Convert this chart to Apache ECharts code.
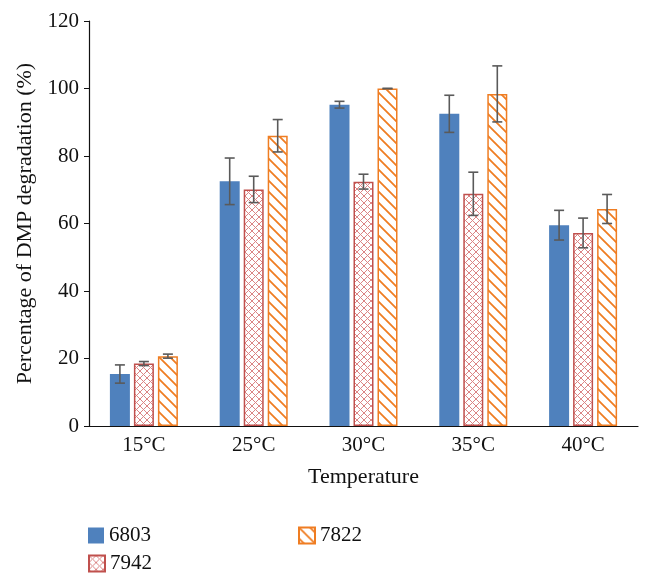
<!DOCTYPE html>
<html>
<head>
<meta charset="utf-8">
<script src="https://cdn.jsdelivr.net/npm/echarts@6/dist/echarts.min.js"></script>
<style>html,body{margin:0;padding:0;background:#fff;}#c{width:653px;height:584px;}</style>
</head>
<body>
<div id="c"></div>
<script>
var categories = ['15°C', '25°C', '30°C', '35°C', '40°C'];
var yTicks = [0, 20, 40, 60, 80, 100, 120];
var seriesNames = ['6803', '7942', '7822'];
var values6803 = [15.4, 72.5, 95.2, 92.5, 59.5];
var values7942 = [18.5, 70.1, 72.4, 68.8, 57.2];
var values7822 = [20.7, 86.0, 100.0, 98.4, 64.3];
var err6803 = [2.7, 6.9, 1.0, 5.5, 4.4];
var err7942 = [0.6, 3.9, 2.2, 6.4, 4.4];
var err7822 = [0.6, 4.8, 0.0, 8.3, 4.3];

function makePattern(kind) {
  var c = document.createElement('canvas');
  var s = kind === 'cross' ? 7 : 11;
  c.width = s; c.height = s;
  var g = c.getContext('2d');
  g.fillStyle = '#ffffff';
  g.fillRect(0, 0, s, s);
  if (kind === 'cross') {
    g.strokeStyle = '#db8585';
    g.lineWidth = 1;
    g.beginPath();
    g.moveTo(0, 0); g.lineTo(s, s);
    g.moveTo(s, 0); g.lineTo(0, s);
    g.stroke();
  } else {
    g.strokeStyle = '#ef7d22';
    g.lineWidth = 1.8;
    g.beginPath();
    g.moveTo(-1, -1); g.lineTo(s + 1, s + 1);
    g.moveTo(-1, s - 1); g.lineTo(1, s + 1);
    g.moveTo(s - 1, -1); g.lineTo(s + 1, 1);
    g.stroke();
  }
  return c;
}

var chart = echarts.init(document.getElementById('c'), null, {renderer: 'canvas'});
var font = 'Liberation Serif';
var fs = 21;
var barW = 20, gap = 4;

function errSeries(idx, vals, errs) {
  var data = vals.map(function (v, i) { return [i, v, errs[i]]; });
  return {
    type: 'custom',
    z: 10,
    silent: true,
    data: data,
    renderItem: function (params, api) {
      var i = api.value(0), v = api.value(1), e = api.value(2);
      var top = api.coord([i, v + e]);
      var bot = api.coord([i, v - e]);
      var x = top[0] + (idx - 1) * (barW + gap);
      var cap = 5;
      var st = {stroke: '#5a5a5a', lineWidth: 1.6};
      return {
        type: 'group',
        children: [
          {type: 'line', shape: {x1: x, y1: top[1], x2: x, y2: bot[1]}, style: st},
          {type: 'line', shape: {x1: x - cap, y1: top[1], x2: x + cap, y2: top[1]}, style: st},
          {type: 'line', shape: {x1: x - cap, y1: bot[1], x2: x + cap, y2: bot[1]}, style: st}
        ]
      };
    }
  };
}

var legendText = {fontFamily: font, fontSize: fs, color: '#111'};
function lg(name, left, top) {
  return {data: [name], left: left, top: top, icon: 'rect', itemWidth: 16, itemHeight: 16,
    itemGap: 10, padding: 0, textStyle: legendText, selectedMode: false};
}
var option = {
  animation: false,
  backgroundColor: '#fff',
  grid: {left: 89, right: 15, top: 21, bottom: 158, containLabel: false},
  legend: [
    lg(seriesNames[0], 88, 525),
    lg(seriesNames[1], 88, 553),
    lg(seriesNames[2], 298, 525)
  ],
  xAxis: {
    type: 'category',
    data: categories,
    name: 'Temperature',
    nameLocation: 'middle',
    nameGap: 40,
    nameTextStyle: {fontFamily: font, fontSize: 22, color: '#111'},
    axisLine: {lineStyle: {color: '#111', width: 1.2}},
    axisTick: {show: false},
    axisLabel: {fontFamily: font, fontSize: fs, color: '#111', margin: 9}
  },
  yAxis: {
    type: 'value',
    min: yTicks[0],
    max: yTicks[yTicks.length - 1],
    interval: 20,
    name: 'Percentage of DMP degradation (%)',
    nameLocation: 'middle',
    nameGap: 52,
    nameTextStyle: {fontFamily: font, fontSize: 22, color: '#111'},
    axisLine: {show: true, lineStyle: {color: '#111', width: 1.2}},
    axisTick: {show: true, length: 5, lineStyle: {color: '#111'}},
    splitLine: {show: false},
    axisLabel: {fontFamily: font, fontSize: fs, color: '#111', margin: 10}
  },
  series: [
    {name: seriesNames[0], type: 'bar', data: values6803, barWidth: barW, barGap: '20%',
      itemStyle: {color: '#4f81bd'}},
    {name: seriesNames[1], type: 'bar', data: values7942, barWidth: barW, barGap: '20%',
      itemStyle: {color: {image: makePattern('cross'), repeat: 'repeat'}, borderColor: '#c0504d', borderWidth: 1.5}},
    {name: seriesNames[2], type: 'bar', data: values7822, barWidth: barW, barGap: '20%',
      itemStyle: {color: {image: makePattern('hatch'), repeat: 'repeat'}, borderColor: '#ef7d22', borderWidth: 1.5}},
    errSeries(0, values6803, err6803),
    errSeries(1, values7942, err7942),
    errSeries(2, values7822, err7822)
  ]
};
chart.setOption(option);
</script>
</body>
</html>
